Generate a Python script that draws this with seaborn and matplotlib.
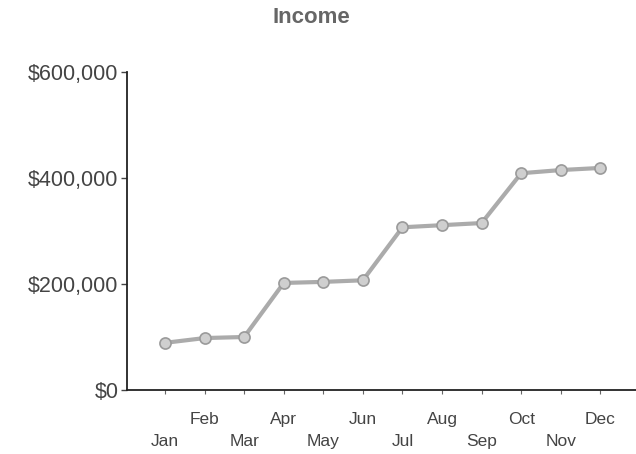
import matplotlib
matplotlib.use("Agg")
import matplotlib.pyplot as plt
import seaborn as sns
import pandas as pd
from matplotlib.ticker import FuncFormatter

months = ["Jan", "Feb", "Mar", "Apr", "May", "Jun",
          "Jul", "Aug", "Sep", "Oct", "Nov", "Dec"]
income = [89000, 98000, 100000, 202000, 204000, 207000,
          307000, 311000, 315000, 409000, 415000, 419000]
y_ticks = [0, 200000, 400000, 600000]

sns.set_style("ticks")
plt.rcParams["font.family"] = ["Liberation Sans", "DejaVu Sans"]

df = pd.DataFrame({"pos": range(len(months)), "month": months, "income": income})

fig = plt.figure(figsize=(6.36, 4.54), dpi=100)
ax = fig.add_axes([127 / 636, 1 - 390 / 454, 1 - 127 / 636, (390 - 72) / 454])

sns.lineplot(data=df, x="pos", y="income", ax=ax, color="#ababab", linewidth=3,
             marker="o", markersize=8, markerfacecolor="#cfcfcf",
             markeredgecolor="#9a9a9a", markeredgewidth=1.2)

ax.set_xlim(-0.96, 11.9)
ax.set_ylim(0, 600000)
ax.set_yticks(y_ticks)
ax.yaxis.set_major_formatter(FuncFormatter(lambda v, p: f"${v:,.0f}"))
ax.set_xticks(range(len(months)))
ax.set_xticklabels(["\n" + m if i % 2 == 0 else m for i, m in enumerate(months)],
                   linespacing=1.55)
ax.set_xlabel("")
ax.set_ylabel("")

sns.despine(ax=ax, top=True, right=True)
for side in ("left", "bottom"):
    ax.spines[side].set_color("#222222")
    ax.spines[side].set_linewidth(1.3)
ax.tick_params(axis="y", direction="out", length=4, width=1, color="#444444",
               labelsize=15.5, labelcolor="#444444", pad=2)
ax.tick_params(axis="x", direction="out", length=3, width=0.8, color="#666666",
               labelsize=12.5, labelcolor="#444444", pad=13)

fig.text(0.49, 0.962, "Income", ha="center", va="center",
         fontsize=16, fontweight="semibold", color="#666666")

fig.savefig("out.png", dpi=100)
